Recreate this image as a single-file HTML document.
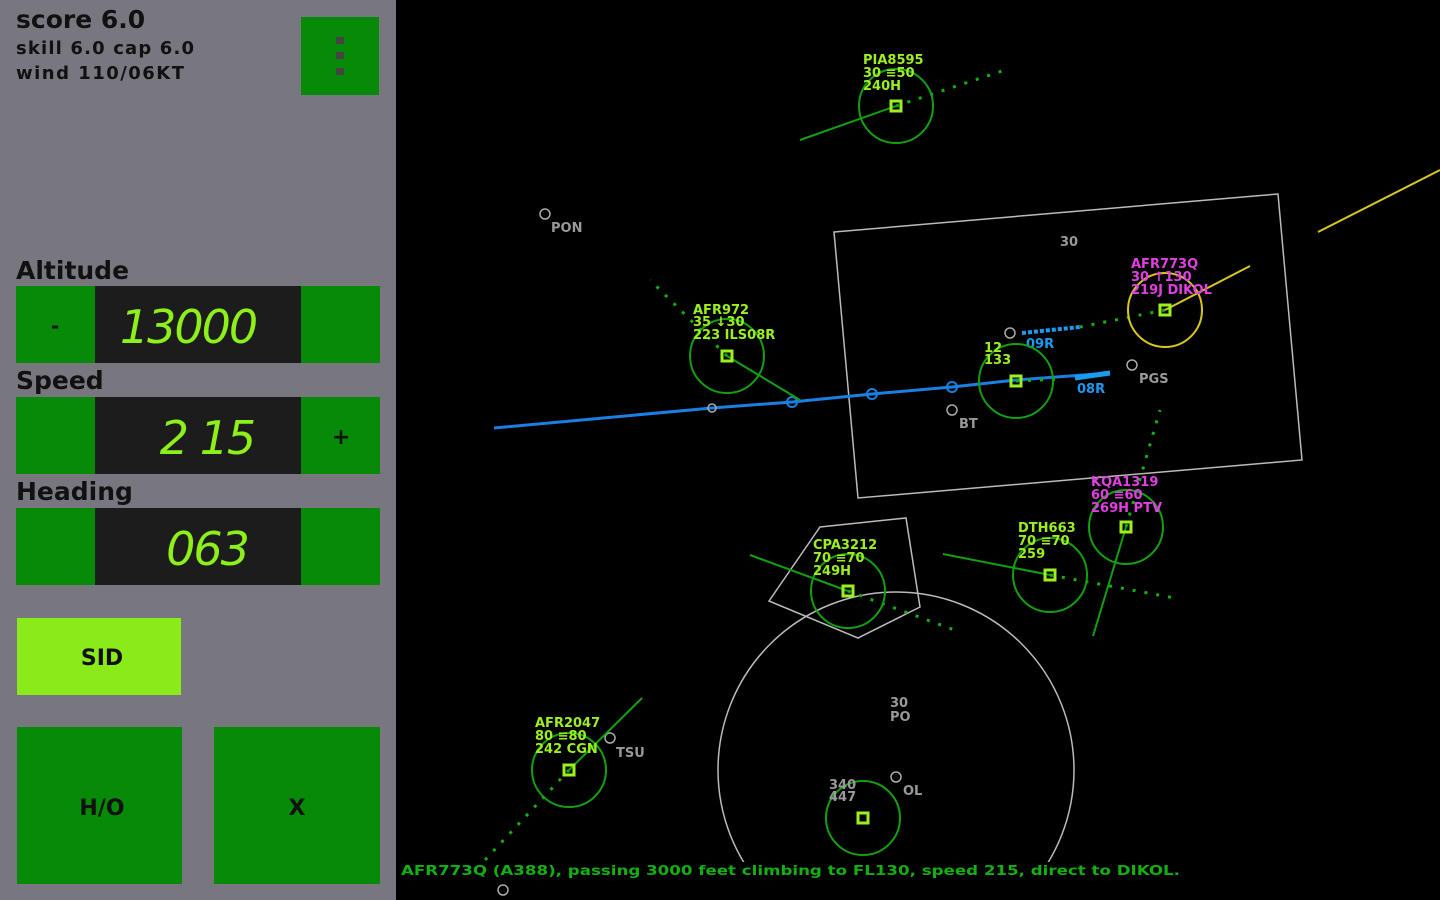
<!DOCTYPE html>
<html><head><meta charset="utf-8"><style>
html,body{margin:0;padding:0;background:#000;width:1440px;height:900px;overflow:hidden}
svg{display:block}
.pl{font-family:"DejaVu Sans","Liberation Sans",sans-serif;font-weight:bold;fill:#111}
.lb{font-family:"DejaVu Sans","Liberation Sans",sans-serif;font-weight:bold;font-size:13px}
.dg{font-family:"DejaVu Sans","Liberation Sans",sans-serif;font-style:italic;font-size:46px;fill:#8ef01a;letter-spacing:-2px}
</style></head><body>
<svg width="1440" height="900" viewBox="0 0 1440 900" xmlns="http://www.w3.org/2000/svg">
<rect width="1440" height="900" fill="#000"/>
<rect x="0" y="0" width="396" height="900" fill="#78777f"/>
<text class="pl" x="16" y="28" font-size="25">score 6.0</text>
<text class="pl" x="16" y="54" font-size="18" textLength="178">skill 6.0 cap 6.0</text>
<text class="pl" x="16" y="79" font-size="18" textLength="168">wind 110/06KT</text>
<rect x="301" y="17" width="78" height="78" fill="#078a07"/>
<rect x="336" y="37" width="8" height="7" fill="#444"/><rect x="336" y="52" width="8" height="7" fill="#444"/><rect x="336" y="68" width="8" height="7" fill="#444"/>
<text class="pl" x="16" y="279" font-size="25">Altitude</text>
<rect x="16" y="286" width="79" height="77" fill="#078a07"/><rect x="95" y="286" width="206" height="77" fill="#1c1c1c"/><rect x="301" y="286" width="79" height="77" fill="#078a07"/>
<text class="pl" x="55" y="333" font-size="20" text-anchor="middle">-</text>
<text class="dg" x="188" y="343" text-anchor="middle">13000</text>
<text class="pl" x="16" y="389" font-size="25">Speed</text>
<rect x="16" y="397" width="79" height="77" fill="#078a07"/><rect x="95" y="397" width="206" height="77" fill="#1c1c1c"/><rect x="301" y="397" width="79" height="77" fill="#078a07"/>
<text class="pl" x="341" y="444" font-size="22" text-anchor="middle">+</text>
<text class="dg" x="207" y="454" text-anchor="middle">2 15</text>
<text class="pl" x="16" y="500" font-size="25">Heading</text>
<rect x="16" y="508" width="79" height="77" fill="#078a07"/><rect x="95" y="508" width="206" height="77" fill="#1c1c1c"/><rect x="301" y="508" width="79" height="77" fill="#078a07"/>
<text class="dg" x="207" y="565" text-anchor="middle">063</text>
<rect x="17" y="618" width="164" height="77" fill="#8aea1a"/>
<text class="pl" x="102" y="665" font-size="22" text-anchor="middle">SID</text>
<rect x="17" y="727" width="165" height="157" fill="#078a07"/>
<text class="pl" x="102" y="815" font-size="22" text-anchor="middle">H/O</text>
<rect x="214" y="727" width="166" height="157" fill="#078a07"/>
<text class="pl" x="297" y="815" font-size="22" text-anchor="middle">X</text>

<g fill="none" stroke="#bbb" stroke-width="1.5">
<polygon points="834,232 1278,194 1302,460 858,498"/>
<polygon points="820,527 906,518 920,607 858,638 769,601"/>
<circle cx="896" cy="770" r="178"/>
</g>
<rect x="396" y="862" width="1044" height="38" fill="#000"/>
<polyline points="494,428 712,408 792,402 872,394 952,387 1016,380 1110,373" stroke="#1a7fe0" stroke-width="3" fill="none"/>
<line x1="1075" y1="378" x2="1110" y2="373" stroke="#1a9af0" stroke-width="5"/>
<line x1="1022" y1="333" x2="1080" y2="327" stroke="#1a9af0" stroke-width="4" stroke-dasharray="4,2"/>
<g fill="none" stroke="#1a7fe0" stroke-width="2"><circle cx="792" cy="402" r="5"/><circle cx="872" cy="394" r="5"/><circle cx="952" cy="387" r="5"/></g>
<g fill="none" stroke="#aaa" stroke-width="1.5">
<circle cx="545" cy="214" r="5"/><circle cx="712" cy="408" r="4"/><circle cx="1010" cy="333" r="5"/><circle cx="1132" cy="365" r="5"/><circle cx="952" cy="410" r="5"/><circle cx="610" cy="738" r="5"/><circle cx="896" cy="777" r="5"/><circle cx="503" cy="890" r="5"/>
</g>
<g class="lb" fill="#999">
<text x="551" y="232">PON</text><text x="1139" y="383">PGS</text><text x="959" y="428">BT</text><text x="616" y="757">TSU</text><text x="903" y="795">OL</text>
<text x="1060" y="246">30</text><text x="890" y="707">30</text><text x="890" y="721">PO</text>
</g>
<text class="lb" x="1026" y="348" fill="#1a9af0">09R</text>
<text class="lb" x="1077" y="393" fill="#1a9af0">08R</text>
<g stroke="#12b012" stroke-width="3" stroke-dasharray="3,9" fill="none">
<line x1="896" y1="106" x2="1005" y2="70"/>
<line x1="727" y1="356" x2="650" y2="280"/>
<line x1="1016" y1="381" x2="1060" y2="379"/>
<line x1="1165" y1="310" x2="1080" y2="327"/>
<line x1="1126" y1="527" x2="1160" y2="410"/>
<line x1="1050" y1="575" x2="1175" y2="598"/>
<line x1="848" y1="591" x2="960" y2="632"/>
<line x1="569" y1="770" x2="485" y2="860"/>
</g>
<g stroke="#12a012" stroke-width="2" fill="none">
<line x1="896" y1="106" x2="800" y2="140"/>
<line x1="727" y1="356" x2="800" y2="400"/>
<line x1="848" y1="591" x2="750" y2="555"/>
<line x1="1050" y1="575" x2="943" y2="554"/>
<line x1="1126" y1="527" x2="1093" y2="636"/>
<line x1="569" y1="770" x2="642" y2="698"/>
</g>
<line x1="1165" y1="310" x2="1250" y2="266" stroke="#d8c81a" stroke-width="2"/>
<line x1="1318" y1="232" x2="1440" y2="170" stroke="#d8c81a" stroke-width="2"/>
<g fill="none" stroke="#12a012" stroke-width="2">
<circle cx="896" cy="106" r="37"/><circle cx="727" cy="356" r="37"/><circle cx="1016" cy="381" r="37"/>
<circle cx="1126" cy="527" r="37"/><circle cx="1050" cy="575" r="37"/><circle cx="848" cy="591" r="37"/>
<circle cx="569" cy="770" r="37"/><circle cx="863" cy="818" r="37"/>
</g>
<circle cx="1165" cy="310" r="37" fill="none" stroke="#d8c81a" stroke-width="2"/>
<g fill="none" stroke="#9cf020" stroke-width="3">
<rect x="891" y="101" width="10" height="10"/><rect x="722" y="351" width="10" height="10"/><rect x="1011" y="376" width="10" height="10"/>
<rect x="1121" y="522" width="10" height="10"/><rect x="1045" y="570" width="10" height="10"/><rect x="843" y="586" width="10" height="10"/>
<rect x="564" y="765" width="10" height="10"/><rect x="858" y="813" width="10" height="10"/><rect x="1160" y="305" width="10" height="10"/>
</g>
<g class="lb" fill="#9cf020">
<text x="863" y="64">PIA8595</text><text x="863" y="77">30 ≡50</text><text x="863" y="90">240H</text>
<text x="693" y="314">AFR972</text><text x="693" y="326">35 ↓30</text><text x="693" y="339">223  ILS08R</text>
<text x="984" y="352">12</text><text x="984" y="364">133</text>
<text x="1018" y="532">DTH663</text><text x="1018" y="545">70 ≡70</text><text x="1018" y="558">259</text>
<text x="813" y="549">CPA3212</text><text x="813" y="562">70 ≡70</text><text x="813" y="575">249H</text>
<text x="535" y="727">AFR2047</text><text x="535" y="740">80 ≡80</text><text x="535" y="753">242  CGN</text>
<text x="829" y="789" fill="#999">340</text><text x="829" y="801" fill="#999">447</text>
</g>
<g class="lb" fill="#e040e0">
<text x="1131" y="268">AFR773Q</text><text x="1131" y="281">30 ↑130</text><text x="1131" y="294">219J DIKOL</text>
<text x="1091" y="486">KQA1319</text><text x="1091" y="499">60 ≡60</text><text x="1091" y="512">269H PTV</text>
</g>
<text class="lb" x="401" y="875" fill="#12b012" font-size="15" textLength="779" lengthAdjust="spacingAndGlyphs">AFR773Q (A388), passing 3000 feet climbing to FL130, speed 215, direct to DIKOL.</text>
</svg>
</body></html>
